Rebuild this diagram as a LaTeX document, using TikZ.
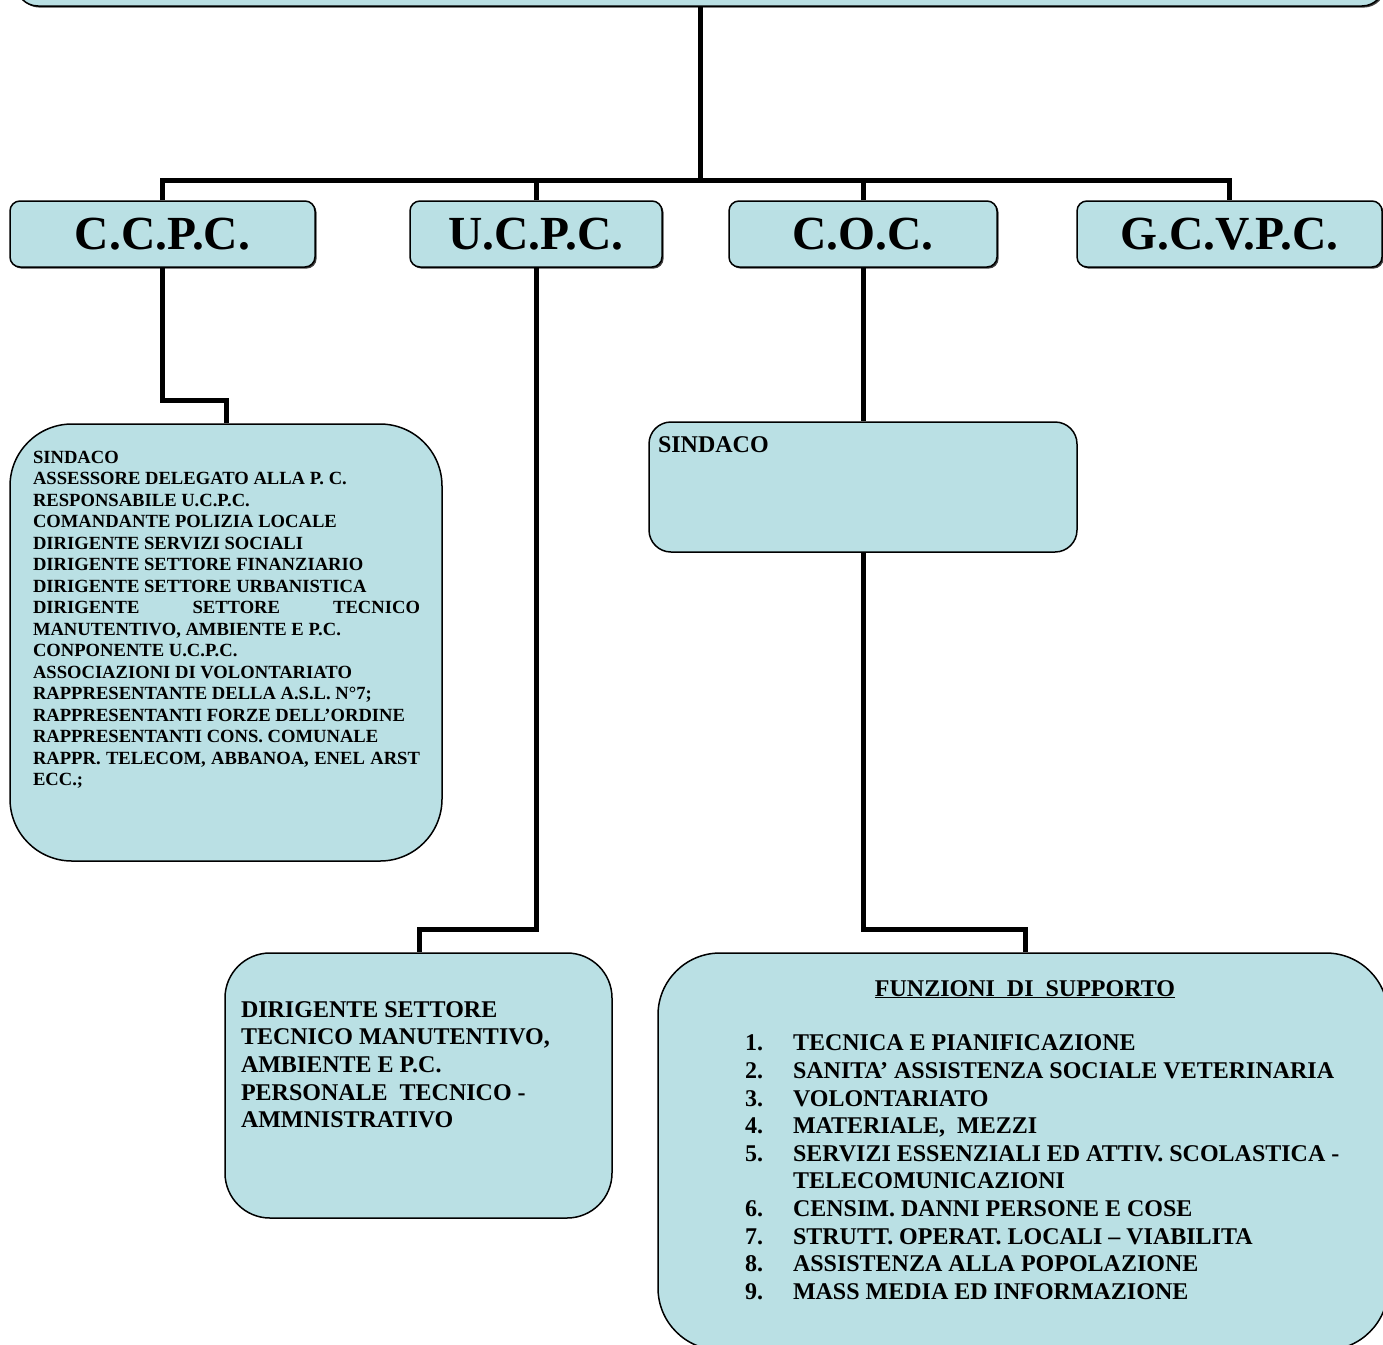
\documentclass[tikz,border=0pt]{standalone}
\usepackage{fontspec}
\setmainfont{Liberation Serif}
\usetikzlibrary{shadows}
\definecolor{boxfill}{RGB}{186,224,228}
\begin{document}
\begin{tikzpicture}[x=1pt,y=-1pt,
  box/.style={draw=black, line width=1.5pt, fill=boxfill, rectangle, inner sep=0pt},
  shbox/.style={box, drop shadow={shadow xshift=1.6pt, shadow yshift=-1.6pt, fill=black!75, opacity=1}},
  conn/.style={line width=5pt, line join=miter, line cap=butt},
  lbl/.style={shbox, rounded corners=10pt, minimum height=66pt, font=\bfseries\fontsize{47.5}{50}\selectfont},
  txt/.style={inner sep=0pt, outer sep=0pt},
  medfont/.style={font=\bfseries\fontsize{24}{27.65}\selectfont},
]
\useasboundingbox (0,0) rectangle (1383,1344);

% top box (only its lower edge is visible)
\node[shbox, rounded corners=22pt, minimum width=1368pt, minimum height=66pt] (top) at (700,-27) {};

% level 1
\node[lbl, minimum width=305pt] (ccpc) at (162.5,234) {C.C.P.C.};
\node[lbl, minimum width=252pt] (ucpc) at (536,234) {U.C.P.C.};
\node[lbl, minimum width=268pt] (coc) at (863,234) {C.O.C.};
\node[lbl, minimum width=305pt] (gcv) at (1229.5,234) {G.C.V.P.C.};

% lower boxes
\node[box, rounded corners=62pt, minimum width=432pt, minimum height=437pt] (big) at (226,642.5) {};
\node[box, rounded corners=22pt, minimum width=428pt, minimum height=130pt] (sind) at (863,487) {};
\node[box, rounded corners=45pt, minimum width=387pt, minimum height=265pt] (dir) at (418.5,1085.5) {};
\node[box, rounded corners=62pt, minimum width=730pt, minimum height=397pt] (funz) at (1023,1151.5) {};

% texts
\node[txt, anchor=north west, text width=387pt, align=justify,
      font=\bfseries\fontsize{18.6}{21.5}\selectfont] (bigtxt) at (33,450.8) {%
\setlength\parindent{0pt}%
SINDACO\par
ASSESSORE DELEGATO ALLA P. C.\par
RESPONSABILE U.C.P.C.\par
COMANDANTE POLIZIA LOCALE\par
DIRIGENTE SERVIZI SOCIALI\par
DIRIGENTE SETTORE FINANZIARIO\par
DIRIGENTE SETTORE URBANISTICA\par
DIRIGENTE SETTORE TECNICO\linebreak MANUTENTIVO, AMBIENTE E P.C.\par
CONPONENTE U.C.P.C.\par
ASSOCIAZIONI DI VOLONTARIATO\par
RAPPRESENTANTE DELLA A.S.L. N°7;\par
RAPPRESENTANTI FORZE DELL’ORDINE\par
RAPPRESENTANTI CONS. COMUNALE\par
RAPPR. TELECOM, ABBANOA, ENEL ARST\linebreak ECC.;\par};

\node[txt, medfont, anchor=base west] (sindtxt) at (658,452) {SINDACO};

\node[txt, medfont, anchor=north west, align=left] (dirtxt) at (241,1001.3) {%
DIRIGENTE SETTORE\\
TECNICO MANUTENTIVO,\\
AMBIENTE E P.C.\\
PERSONALE\ \ TECNICO -\\
AMMNISTRATIVO};

\node[txt, medfont, anchor=base] (funzhead) at (1025,996) {\underline{FUNZIONI\ \ DI\ \ SUPPORTO}};

\node[txt, medfont, anchor=north west, align=left] (funzlist) at (745,1034.8) {%
\makebox[48pt][l]{1.}TECNICA E PIANIFICAZIONE\\
\makebox[48pt][l]{2.}SANITA’ ASSISTENZA SOCIALE VETERINARIA\\
\makebox[48pt][l]{3.}VOLONTARIATO\\
\makebox[48pt][l]{4.}MATERIALE,\ \ MEZZI\\
\makebox[48pt][l]{5.}SERVIZI ESSENZIALI ED ATTIV. SCOLASTICA -\\
\makebox[48pt][l]{}TELECOMUNICAZIONI\\
\makebox[48pt][l]{6.}CENSIM. DANNI PERSONE E COSE\\
\makebox[48pt][l]{7.}STRUTT. OPERAT. LOCALI – VIABILITA\\
\makebox[48pt][l]{8.}ASSISTENZA ALLA POPOLAZIONE\\
\makebox[48pt][l]{9.}MASS MEDIA ED INFORMAZIONE};

% connectors
\coordinate (bus) at (700,180);
\coordinate (k1) at (226,400);
\coordinate (k2) at (419,929);
\coordinate (k3) at (1025,929);

\draw[conn] (top.south -| bus) -- (bus);
\draw[conn] (ccpc.north) -- (ccpc.north |- bus) -- (gcv.north |- bus) -- (gcv.north);
\draw[conn] (ucpc.north) -- (ucpc.north |- bus);
\draw[conn] (coc.north) -- (coc.north |- bus);

\draw[conn] (ccpc.south) |- (k1) -- (k1 |- big.north);
\draw[conn] (ucpc.south) |- (k2) -- (k2 |- dir.north);
\draw[conn] (coc.south) -- (sind.north);
\draw[conn] (sind.south) |- (k3) -- (k3 |- funz.north);
\end{tikzpicture}
\end{document}
